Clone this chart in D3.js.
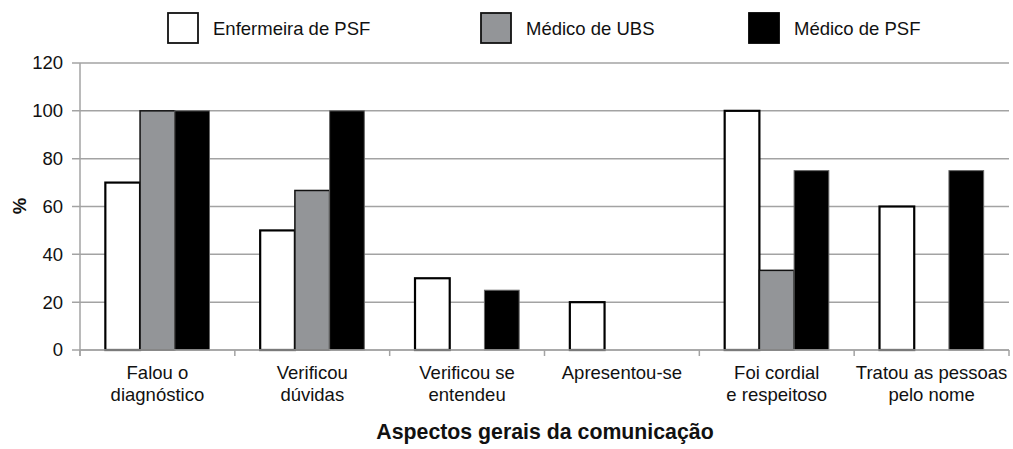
<!DOCTYPE html>
<head>
  <script src="https://d3js.org/d3.v7.min.js"></script>
  <style>
    body { margin: 0; background: #fff; }
    text { font-family: "Liberation Sans", Arial, sans-serif; fill: #111; }
  </style>
</head>
<body>
  <script type="text/javascript">
    var w = 1013;
    var h = 449;

    var categories = [
      ["Falou o", "diagnóstico"],
      ["Verificou", "dúvidas"],
      ["Verificou se", "entendeu"],
      ["Apresentou-se"],
      ["Foi cordial", "e respeitoso"],
      ["Tratou as pessoas", "pelo nome"]
    ];
    var seriesNames = ["Enfermeira de PSF", "Médico de UBS", "Médico de PSF"];
    var enfermeiraPSF = [70, 50, 30, 20, 100, 60];
    var medicoUBS = [100, 66.7, 0, 0, 33.3, 0];
    var medicoPSF = [100, 100, 25, 0, 75, 75];
    var yTicks = [0, 20, 40, 60, 80, 100, 120];

    var fills = ["#ffffff", "#939598", "#000000"];
    var strokes = ["#000000", "#111111", "#666666"];
    var strokeW = [2.2, 1.5, 1];

    var values = [enfermeiraPSF, medicoUBS, medicoPSF];
    var catKeys = categories.map(function(c){ return c.join(" "); });

    var svg = d3.select("body")
      .append("svg")
      .attr("width", w)
      .attr("height", h);

    var plotL = 80, plotR = 1009, plotT = 63, plotB = 350;

    var yScale = d3.scaleLinear()
                   .domain([0, 120])
                   .range([plotB, plotT]);

    var x0 = d3.scaleBand()
               .domain(catKeys)
               .range([plotL, plotR])
               .padding(0);

    var x1 = d3.scaleBand()
               .domain(d3.range(seriesNames.length))
               .range([0, x0.bandwidth()])
               .paddingInner(0)
               .paddingOuter(0.73);

    // gridlines
    svg.selectAll("line.grid")
      .data(yTicks)
      .enter()
      .append("line")
      .attr("x1", plotL - 8)
      .attr("x2", plotR)
      .attr("y1", function(d){ return yScale(d); })
      .attr("y2", function(d){ return yScale(d); })
      .attr("stroke", "#a3a3a3")
      .attr("stroke-width", 1.5);

    // y axis line
    svg.append("line")
      .attr("x1", plotL).attr("x2", plotL)
      .attr("y1", plotT).attr("y2", plotB + 6)
      .attr("stroke", "#a3a3a3")
      .attr("stroke-width", 1.5);

    // y tick labels
    svg.selectAll("text.ytick")
      .data(yTicks)
      .enter()
      .append("text")
      .attr("x", 63)
      .attr("y", function(d){ return yScale(d); })
      .attr("dy", "0.35em")
      .attr("text-anchor", "end")
      .style("font-size", "18.5px")
      .text(function(d){ return d; });

    // x tick marks at band boundaries
    var bounds = catKeys.map(function(k){ return x0(k); }).concat([plotR]);
    svg.selectAll("line.xtick")
      .data(bounds)
      .enter()
      .append("line")
      .attr("x1", function(d){ return d; })
      .attr("x2", function(d){ return d; })
      .attr("y1", plotB)
      .attr("y2", plotB + 6)
      .attr("stroke", "#a3a3a3")
      .attr("stroke-width", 1.5);

    // bars
    var groups = svg.selectAll("g.cat")
      .data(catKeys)
      .enter()
      .append("g")
      .attr("transform", function(d){ return "translate(" + x0(d) + ",0)"; });

    groups.selectAll("rect")
      .data(function(d, ci){
        return values.map(function(s, si){ return {s: si, v: s[ci]}; })
                     .filter(function(e){ return e.v > 0; });
      })
      .enter()
      .append("rect")
      .attr("x", function(d){ return x1(d.s); })
      .attr("y", function(d){ return yScale(d.v); })
      .attr("width", x1.bandwidth())
      .attr("height", function(d){ return plotB - yScale(d.v); })
      .attr("fill", function(d){ return fills[d.s]; })
      .attr("stroke", function(d){ return strokes[d.s]; })
      .attr("stroke-width", function(d){ return strokeW[d.s]; });

    // x axis baseline on top of bars
    svg.append("line")
      .attr("x1", plotL).attr("x2", plotR)
      .attr("y1", plotB).attr("y2", plotB)
      .attr("stroke", "#a3a3a3")
      .attr("stroke-width", 1.5);

    // category labels
    var labels = svg.selectAll("text.cat")
      .data(categories)
      .enter()
      .append("text")
      .attr("text-anchor", "middle")
      .style("font-size", "18.5px")
      .attr("transform", function(d, i){
        return "translate(" + (x0(catKeys[i]) + x0.bandwidth() / 2) + ",0)";
      });
    labels.selectAll("tspan")
      .data(function(d){ return d; })
      .enter()
      .append("tspan")
      .attr("x", 0)
      .attr("y", function(d, i){ return 379 + i * 22; })
      .text(function(d){ return d; });

    // axis titles
    svg.append("text")
      .attr("x", 545)
      .attr("y", 439)
      .attr("text-anchor", "middle")
      .style("font-size", "21.3px")
      .style("font-weight", "bold")
      .text("Aspectos gerais da comunicação");

    svg.append("text")
      .attr("transform", "translate(26,206) rotate(-90)")
      .attr("text-anchor", "middle")
      .style("font-size", "18.5px")
      .style("font-weight", "bold")
      .text("%");

    // legend
    var legendX = [167, 480, 748];
    var legend = svg.selectAll("g.legend")
      .data(seriesNames)
      .enter()
      .append("g")
      .attr("transform", function(d, i){ return "translate(" + legendX[i] + ",12)"; });

    legend.append("rect")
      .attr("x", 1)
      .attr("y", 1)
      .attr("width", 30)
      .attr("height", 30)
      .attr("fill", function(d, i){ return fills[i]; })
      .attr("stroke", function(d, i){ return i === 2 ? "#000" : "#111"; })
      .attr("stroke-width", 1.8);

    legend.append("text")
      .attr("x", 46)
      .attr("y", 17)
      .attr("dy", "0.35em")
      .style("font-size", "18.5px")
      .text(function(d){ return d; });
  </script>
</body>
